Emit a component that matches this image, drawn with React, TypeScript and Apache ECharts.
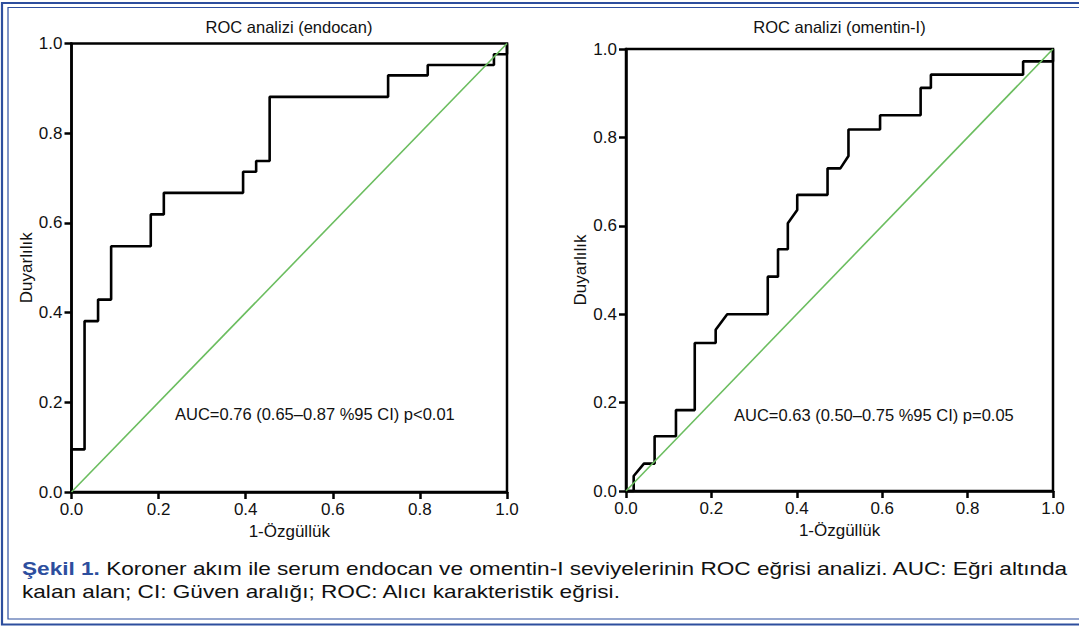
import React, { useEffect, useRef } from "react";
import * as echarts from "echarts";

const endocanFPR = [0, 0, 0.03, 0.03, 0.061, 0.061, 0.091, 0.091, 0.182, 0.182, 0.212, 0.212, 0.394, 0.394, 0.424, 0.424, 0.455, 0.455, 0.727, 0.727, 0.818, 0.818, 0.97, 0.97, 1, 1];
const endocanTPR = [0, 0.095, 0.095, 0.381, 0.381, 0.429, 0.429, 0.548, 0.548, 0.619, 0.619, 0.667, 0.667, 0.714, 0.714, 0.738, 0.738, 0.881, 0.881, 0.929, 0.929, 0.952, 0.952, 0.976, 0.976, 1];

const omentinFPR = [0, 0.018, 0.018, 0.042, 0.067, 0.067, 0.117, 0.117, 0.161, 0.161, 0.21, 0.21, 0.237, 0.332, 0.332, 0.356, 0.356, 0.379, 0.379, 0.401, 0.401, 0.472, 0.472, 0.502, 0.521, 0.521, 0.595, 0.595, 0.69, 0.69, 0.714, 0.714, 0.93, 0.93, 1, 1];
const omentinTPR = [0, 0, 0.034, 0.062, 0.062, 0.124, 0.124, 0.183, 0.183, 0.335, 0.335, 0.365, 0.4, 0.4, 0.485, 0.485, 0.547, 0.547, 0.606, 0.636, 0.67, 0.67, 0.73, 0.73, 0.758, 0.818, 0.818, 0.85, 0.85, 0.912, 0.912, 0.942, 0.942, 0.972, 0.972, 1];

const refX = [0, 1];
const refY = [0, 1];

const titles = ["ROC analizi (endocan)", "ROC analizi (omentin-I)"];
const aucTexts = ["AUC=0.76 (0.65–0.87 %95 CI) p<0.01", "AUC=0.63 (0.50–0.75 %95 CI) p=0.05"];
const xName = "1-Özgüllük";
const yName = "Duyarlılık";
const captionLine1Bold = "Şekil 1.";
const captionLine1 = " Koroner akım ile serum endocan ve omentin-I seviyelerinin ROC eğrisi analizi. AUC: Eğri altında";
const captionLine2 = "kalan alan; CI: Güven aralığı; ROC: Alıcı karakteristik eğrisi.";

const FONT = "Liberation Sans, Arial, Helvetica, sans-serif";
const BLUE = "#2d4e9e";

function zip(xs: number[], ys: number[]) {
  return xs.map((x, i) => [x, ys[i]]);
}

export default function App() {
  const ref = useRef<HTMLDivElement>(null);
  useEffect(() => {
    document.body.style.margin = "0";
    if (!ref.current) return;
    const chart = echarts.init(ref.current, undefined, { renderer: "svg" });
    const grids = [
      { left: 71.5, top: 43.5, width: 435.5, height: 448.5 },
      { left: 626, top: 49, width: 427, height: 442 },
    ];
    const labelBase = {
      color: "#111",
      fontSize: 17,
      fontFamily: FONT,
      formatter: (v: number) => v.toFixed(1),
    };
    const axisCommon = (gridIndex: number) => ({
      gridIndex,
      type: "value" as const,
      min: 0,
      max: 1,
      interval: 0.2,
      axisLine: { show: true, lineStyle: { color: "#000", width: 2.5 } },
      axisTick: { show: true, inside: false, length: 7, lineStyle: { color: "#000", width: 2.5 } },
      splitLine: { show: false },
      nameTextStyle: { color: "#111", fontSize: 17, fontFamily: FONT },
    });
    const txt = (x: number, y: number, text: string, align: string, size = 16.5) => ({
      type: "text",
      x,
      y,
      style: { text, fill: "#111", fontSize: size, fontFamily: FONT, align, verticalAlign: "middle" },
    });
    const option: any = {
      animation: false,
      backgroundColor: "#fff",
      grid: grids.map((g) => ({
        ...g,
        show: true,
        borderColor: "#000",
        borderWidth: 2.5,
        backgroundColor: "transparent",
      })),
      xAxis: [0, 1].map((i) => ({
        ...axisCommon(i),
        name: xName,
        nameLocation: "middle",
        nameGap: 31,
        axisLabel: { ...labelBase, margin: 9 },
      })),
      yAxis: [0, 1].map((i) => ({
        ...axisCommon(i),
        name: yName,
        nameLocation: "middle",
        nameGap: i === 0 ? 37 : 35,
        axisLabel: { ...labelBase, margin: 9 },
      })),
      series: [
        {
          type: "line",
          xAxisIndex: 0,
          yAxisIndex: 0,
          data: zip(endocanFPR, endocanTPR),
          showSymbol: false,
          clip: false,
          lineStyle: { color: "#000", width: 2.6 },
          z: 3,
        },
        {
          type: "line",
          xAxisIndex: 0,
          yAxisIndex: 0,
          data: zip(refX, refY),
          showSymbol: false,
          lineStyle: { color: "#6bbd5f", width: 1.6 },
          z: 4,
        },
        {
          type: "line",
          xAxisIndex: 1,
          yAxisIndex: 1,
          data: zip(omentinFPR, omentinTPR),
          showSymbol: false,
          clip: false,
          lineStyle: { color: "#000", width: 2.6 },
          z: 3,
        },
        {
          type: "line",
          xAxisIndex: 1,
          yAxisIndex: 1,
          data: zip(refX, refY),
          showSymbol: false,
          lineStyle: { color: "#6bbd5f", width: 1.6 },
          z: 4,
        },
      ],
      graphic: [
        {
          type: "rect",
          shape: { x: 2, y: 3, width: 1090, height: 621.5 },
          style: { fill: "none", stroke: BLUE, lineWidth: 2.2 },
          silent: true,
        },
        {
          type: "rect",
          shape: { x: 8, y: 7.5, width: 1080, height: 611.5 },
          style: { fill: "none", stroke: BLUE, lineWidth: 1.2 },
          silent: true,
        },
        txt(289, 27, titles[0], "center"),
        txt(839.5, 27, titles[1], "center"),
        txt(175, 414, aucTexts[0], "left"),
        txt(734, 415, aucTexts[1], "left"),
        {
          type: "text",
          x: 22,
          y: 568,
          scaleX: 1.19,
          style: {
            text: `{b|${captionLine1Bold}}{r|${captionLine1}}`,
            fill: "#111",
            fontSize: 19,
            fontFamily: FONT,
            align: "left",
            verticalAlign: "middle",
            rich: {
              b: { fill: BLUE, fontWeight: "bold", fontSize: 19, fontFamily: FONT },
              r: { fill: "#111", fontSize: 19, fontFamily: FONT },
            },
          },
        },
        {
          type: "text",
          x: 22,
          y: 591,
          scaleX: 1.19,
          style: { text: captionLine2, fill: "#111", fontSize: 19, fontFamily: FONT, align: "left", verticalAlign: "middle" },
        },
      ],
    };
    chart.setOption(option);
    return () => chart.dispose();
  }, []);
  return <div ref={ref} style={{ width: 1079, height: 627 }} />;
}
